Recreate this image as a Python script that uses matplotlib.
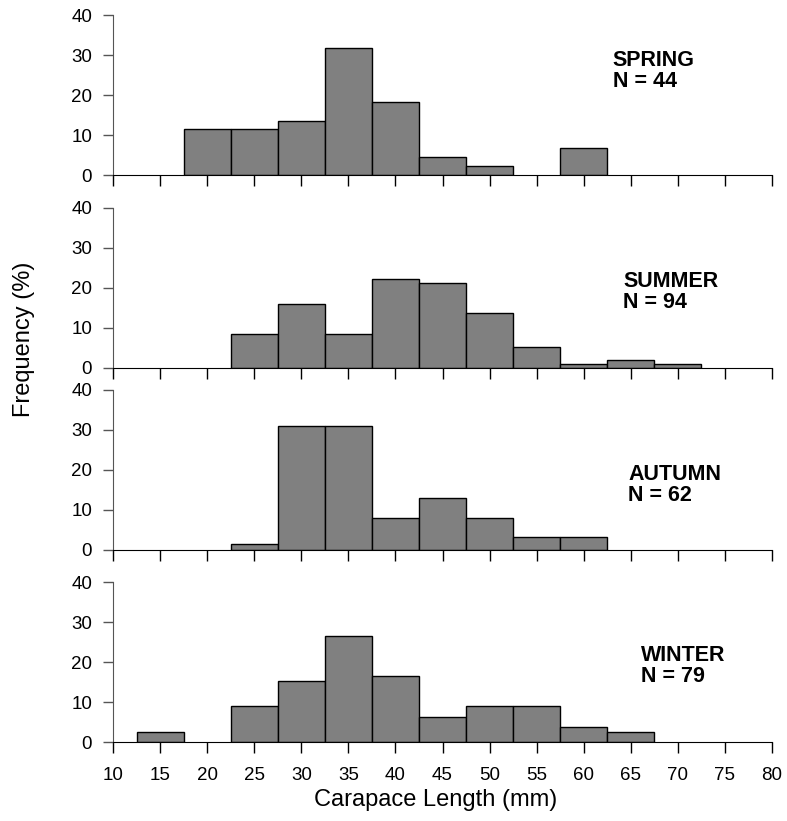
import matplotlib
matplotlib.use("Agg")
import matplotlib.pyplot as plt

plt.rcParams['font.family'] = ['Liberation Sans', 'DejaVu Sans']

# bin centres (mm), 5 mm wide bins
bins = [15, 20, 25, 30, 35, 40, 45, 50, 55, 60, 65, 70]

# frequency (%) per bin for each season
spring = [0, 11.4, 11.4, 13.6, 31.8, 18.2, 4.5, 2.3, 0, 6.8, 0, 0]
summer = [0, 0, 8.5, 16.0, 8.5, 22.3, 21.3, 13.8, 5.3, 1.1, 2.1, 1.1]
autumn = [0, 0, 1.6, 31.1, 31.1, 8.1, 12.9, 8.1, 3.2, 3.2, 0, 0]
winter = [2.5, 0, 8.9, 15.2, 26.6, 16.5, 6.3, 8.9, 8.9, 3.8, 2.5, 0]

seasons = ["SPRING", "SUMMER", "AUTUMN", "WINTER"]
counts = [44, 94, 62, 79]
label_pos = [(63.1, 26.1), (64.2, 18.9), (64.7, 16.3), (66.1, 19.0)]

# axes bottoms in figure fraction
bottoms = [0.7868, 0.5518, 0.3301, 0.0962]

fig = plt.figure(figsize=(7.87, 8.21), dpi=100)

for i, data in enumerate([spring, summer, autumn, winter]):
    ax = fig.add_axes([0.1436, bottoms[i], 0.8374, 0.1949])
    # skip empty bins so no outline is drawn on the baseline
    xs = [b for b, v in zip(bins, data) if v > 0]
    ys = [v for v in data if v > 0]
    ax.bar(xs, ys, width=5, color="#808080", edgecolor="black", linewidth=1)
    ax.set_xlim(10, 80)
    ax.set_ylim(0, 40)
    ax.set_xticks(range(10, 81, 5))
    ax.set_yticks([0, 10, 20, 30, 40])
    ax.spines['top'].set_visible(False)
    ax.spines['right'].set_visible(False)
    ax.spines['left'].set_color("#555555")
    ax.tick_params(axis='x', direction='out', length=8, width=1, pad=10)
    ax.tick_params(axis='y', direction='out', length=7, width=1, pad=8,
                   color="#555555")
    ax.tick_params(labelsize=13.5)
    if i < 3:
        ax.set_xticklabels([])
    ax.text(label_pos[i][0], label_pos[i][1],
            seasons[i] + "\nN = " + str(counts[i]),
            fontsize=15.5, fontweight='bold', va='center', ha='left',
            linespacing=1.0)

fig.text(0.0305, 0.587, "Frequency (%)", rotation=90, fontsize=17,
         ha='center', va='center')
fig.text(0.554, 0.0256, "Carapace Length (mm)", fontsize=17,
         ha='center', va='center')

fig.savefig("out.png", dpi=100)
